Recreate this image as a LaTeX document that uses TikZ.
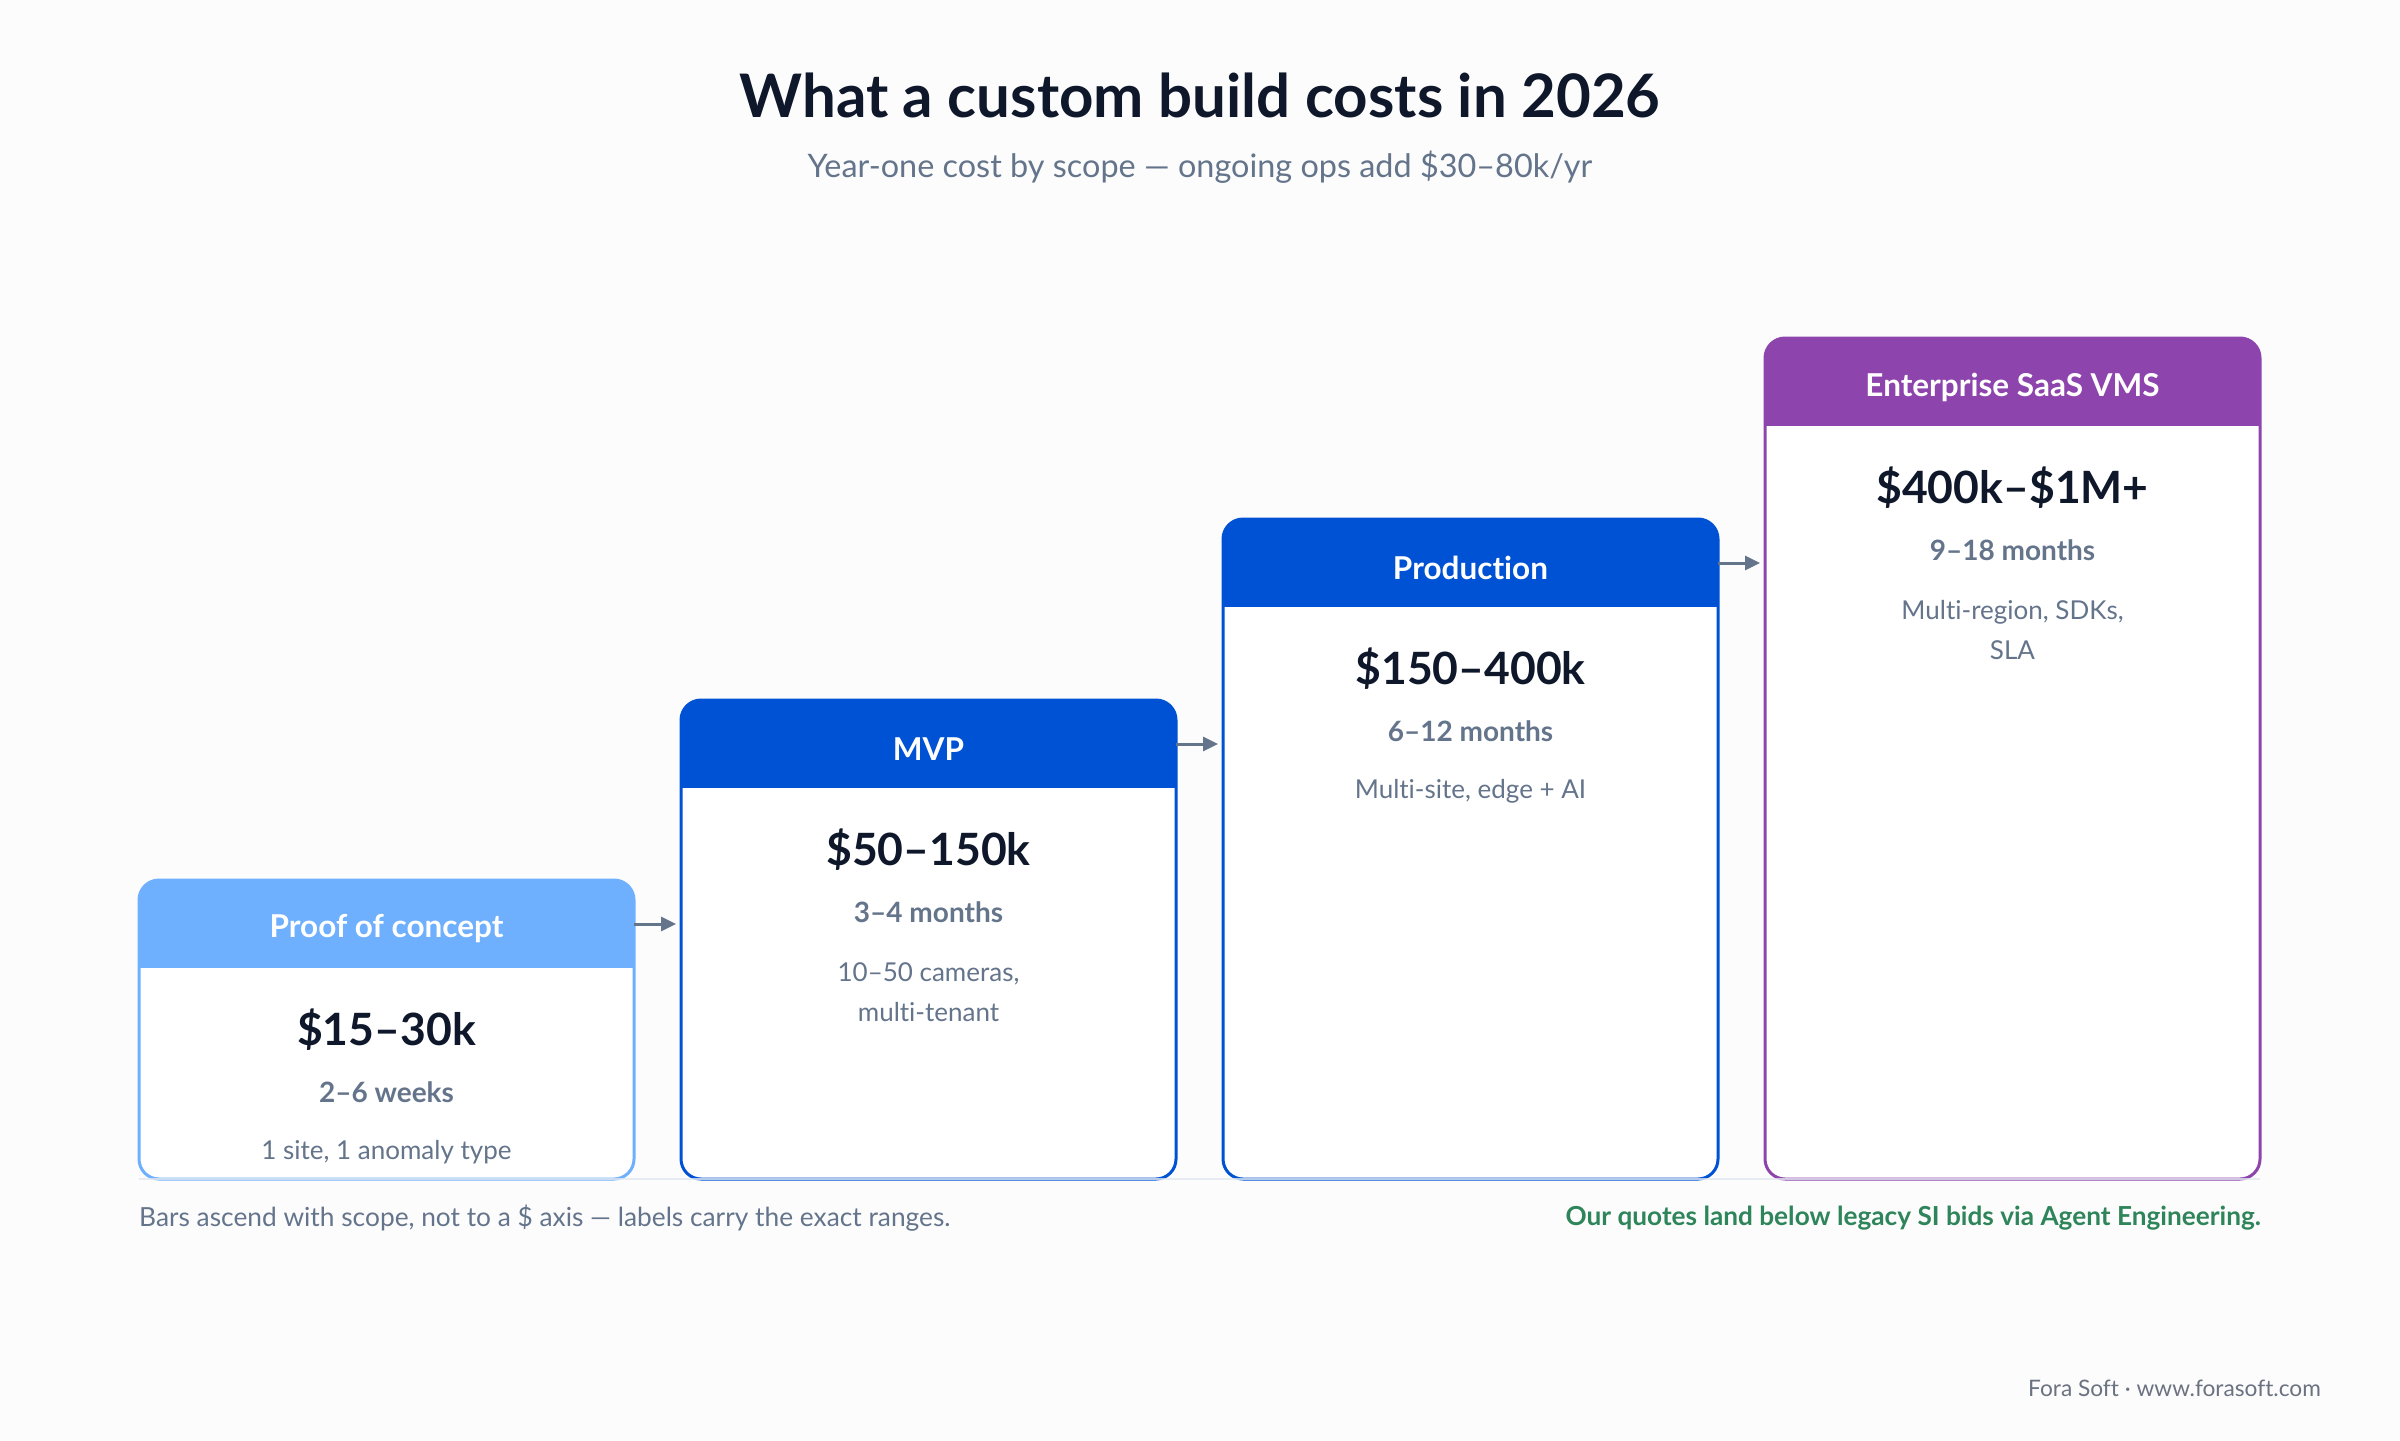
\documentclass[tikz,border=0pt]{standalone}
\usepackage{fontspec}
\setmainfont{Lato}[Ligatures={NoCommon}]
\usetikzlibrary{arrows.meta}
\definecolor{ink}{HTML}{0F172A}
\definecolor{slate}{HTML}{64748B}
\definecolor{pocc}{HTML}{6EB0FD}
\definecolor{brandblue}{HTML}{0052D4}
\definecolor{purp}{HTML}{8E44AD}
\definecolor{okgreen}{HTML}{2F855A}
\definecolor{bgc}{HTML}{FCFCFD}
\definecolor{axisc}{HTML}{E2E8F0}
\definecolor{creditc}{HTML}{6B7280}
\begin{document}
\begin{tikzpicture}[x=1pt,y=-1pt,
 barbox/.style={rectangle, rounded corners=20pt, fill=white, minimum width=495pt, anchor=north west, inner sep=0pt, outer sep=0pt},
 hdr/.style={text=white, font=\fontsize{31.5}{36}\selectfont\bfseries},
 price/.style={text=ink, font=\fontsize{44.5}{52}\selectfont\bfseries},
 dur/.style={text=slate, font=\fontsize{28}{33}\selectfont\bfseries},
 desc/.style={text=slate, font=\fontsize{26}{40}\selectfont, align=center},
 flow/.style={draw=slate, line width=3pt, shorten >=5pt, -{Triangle[length=15pt,width=14pt]}},
]
\fill[bgc] (0,0) rectangle (2400,1440);
\useasboundingbox (0,0) rectangle (2400,1440);

% title
\node[text=ink, font=\fontsize{60}{72}\selectfont\bfseries] (title) at (1200,95) {What a custom build costs in 2026};
\node[text=slate, font=\fontsize{32.4}{38}\selectfont] (sub) at (1200,167) {Year-one cost by scope — ongoing ops add \$30–80k/yr};

% bars
\node[barbox, minimum height=299pt] (poc) at (139,880) {};
\node[barbox, minimum height=479pt] (mvp) at (681,700) {};
\node[barbox, minimum height=660pt] (prod) at (1223,519) {};
\node[barbox, minimum height=841pt] (ent) at (1765,338) {};

\foreach \b/\c in {poc/pocc, mvp/brandblue, prod/brandblue, ent/purp}{
  \begin{scope}
    \clip[rounded corners=20pt] (\b.north west) rectangle (\b.south east);
    \fill[\c] (\b.north west) rectangle ([yshift=-88pt]\b.north east);
  \end{scope}
  \draw[\c, line width=3pt, rounded corners=20pt] (\b.north west) rectangle (\b.south east);
}

% baseline
\draw[axisc, line width=2pt, opacity=0.8] (poc.south west) -- (ent.south east);

% PoC
\node[hdr] (poch) at ([yshift=-49pt]poc.north) {Proof of concept};
\node[price] (pocp) at ([yshift=-150pt]poc.north) {\$15–30k};
\node[dur] (pocd) at ([yshift=-212pt]poc.north) {2–6 weeks};
\node[desc] (poct) at ([yshift=-272pt]poc.north) {1 site, 1 anomaly type};

% MVP
\node[hdr] (mvph) at ([yshift=-49pt]mvp.north) {MVP};
\node[price] (mvpp) at ([yshift=-150pt]mvp.north) {\$50–150k};
\node[dur] (mvpd) at ([yshift=-212pt]mvp.north) {3–4 months};
\node[desc] (mvpt) at ([yshift=-292pt]mvp.north) {10–50 cameras,\\multi-tenant};

% Production
\node[hdr] (prodh) at ([yshift=-49pt]prod.north) {Production};
\node[price] (prodp) at ([yshift=-150pt]prod.north) {\$150–400k};
\node[dur] (prodd) at ([yshift=-212pt]prod.north) {6–12 months};
\node[desc] (prodt) at ([yshift=-272pt]prod.north) {Multi-site, edge + AI};

% Enterprise
\node[hdr] (enth) at ([yshift=-49pt]ent.north) {Enterprise SaaS VMS};
\node[price] (entp) at ([yshift=-150pt]ent.north) {\$400k–\$1M+};
\node[dur] (entd) at ([yshift=-212pt]ent.north) {9–18 months};
\node[desc] (entt) at ([yshift=-292pt]ent.north) {Multi-region, SDKs,\\SLA};

% arrows
\draw[flow] (poc.east |- poc.north) ++(0,44) coordinate (a1) (a1) -- (mvp.west |- a1);
\draw[flow] (mvp.east |- mvp.north) ++(0,44) coordinate (a2) (a2) -- (prod.west |- a2);
\draw[flow] (prod.east |- prod.north) ++(0,44) coordinate (a3) (a3) -- (ent.west |- a3);

% footer
\node[anchor=west, text=slate, font=\fontsize{26.3}{30}\selectfont, inner sep=0pt] (note) at (139,1218) {Bars ascend with scope, not to a \$ axis — labels carry the exact ranges.};
\node[anchor=east, text=okgreen, font=\fontsize{26.2}{30}\selectfont\bfseries, inner sep=0pt] (quote) at (2261,1218) {Our quotes land below legacy SI bids via Agent Engineering.};
\node[anchor=east, text=creditc, font=\fontsize{22.7}{27}\selectfont, inner sep=0pt] (credit) at (2321,1388) {Fora Soft · www.forasoft.com};
\end{tikzpicture}
\end{document}
